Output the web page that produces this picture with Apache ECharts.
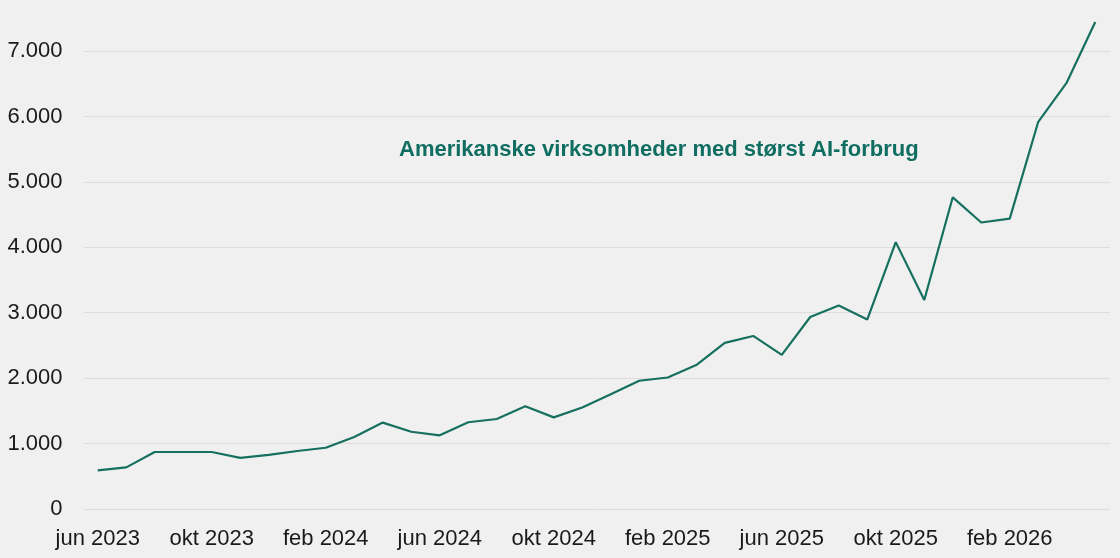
<!DOCTYPE html>
<html>
<head>
<meta charset="utf-8">
<script src="https://cdn.jsdelivr.net/npm/echarts@6/dist/echarts.min.js"></script>
<style>
  html, body { margin: 0; padding: 0; background: #f0f0f0; }
  #chart { width: 1120px; height: 558px; }
</style>
</head>
<body>
<div id="chart"></div>
<script>
// månedlige observationer, jun 2023 - maj 2026
const monthNames = ['jan', 'feb', 'mar', 'apr', 'maj', 'jun', 'jul', 'aug', 'sep', 'okt', 'nov', 'dec']
const months = []
for (let i = 0; i < 36; i++) {
  const m = (5 + i) % 12
  const y = 2023 + Math.floor((5 + i) / 12)
  months.push(monthNames[m] + ' ' + y)
}

const aiSpend = [
  590, 635, 870, 870, 870, 780, 825, 885, 935, 1100,
  1320, 1180, 1125, 1325, 1375, 1570, 1400, 1550, 1755, 1960,
  2010, 2200, 2540, 2645, 2355, 2935, 3110, 2895, 4080, 3195,
  4765, 4380, 4440, 5920, 6520, 7445
]

const chartTitle = 'Amerikanske virksomheder med størst AI-forbrug'

const chart = echarts.init(document.getElementById('chart'))

chart.setOption({
  backgroundColor: '#f0f0f0',
  animation: false,
  title: {
    text: chartTitle,
    left: 394,
    top: 134,
    textStyle: {
      color: '#0f6e61',
      fontSize: 22,
      fontWeight: 'bold',
      fontFamily: 'Liberation Sans'
    }
  },
  grid: {
    left: 83.5,
    right: 10.5,
    top: -14.2,
    bottom: 49.1,
    outerBoundsMode: 'none'
  },
  xAxis: {
    type: 'category',
    data: months,
    boundaryGap: true,
    axisLine: { show: false },
    axisTick: { show: false },
    axisLabel: {
      interval: 3,
      margin: 19,
      color: '#1a1a1a',
      fontSize: 22,
      fontFamily: 'Liberation Sans'
    }
  },
  yAxis: {
    type: 'value',
    min: 0,
    max: 8000,
    interval: 1000,
    axisLine: { show: false },
    axisTick: { show: false },
    splitLine: { lineStyle: { color: '#dcdcdc', width: 1 } },
    axisLabel: {
      margin: 21,
      color: '#1a1a1a',
      fontSize: 22,
      fontFamily: 'Liberation Sans',
      formatter: v => v.toLocaleString('da-DK')
    }
  },
  series: [{
    type: 'line',
    data: aiSpend,
    showSymbol: false,
    lineStyle: { color: '#16705f', width: 2.2 }
  }]
})
</script>
</body>
</html>
